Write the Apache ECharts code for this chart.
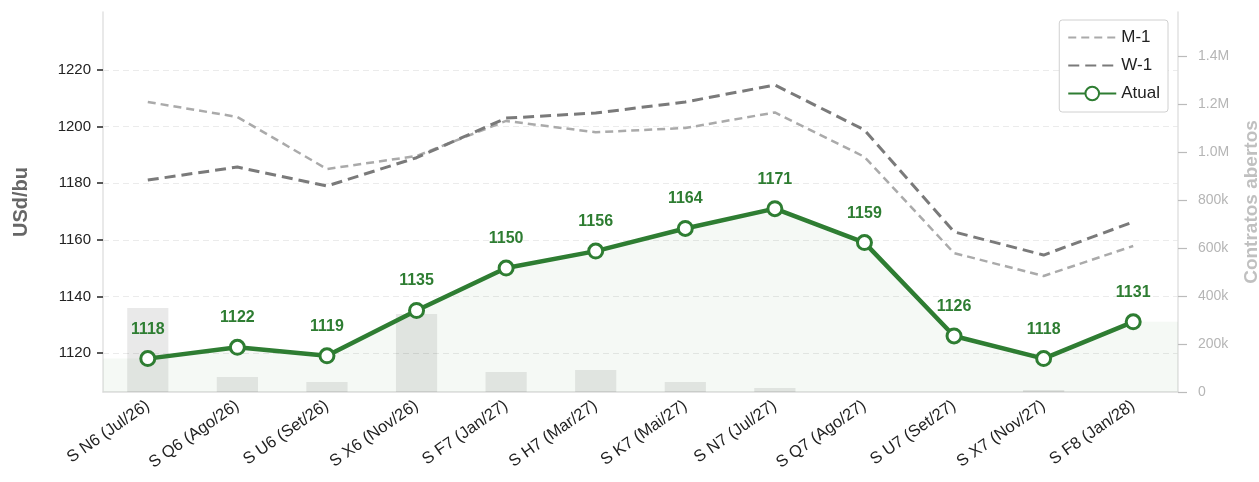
<!DOCTYPE html>
<html>
<head>
<meta charset="utf-8">
<script src="https://cdn.jsdelivr.net/npm/echarts@6/dist/echarts.min.js"></script>
<style>
  html, body { margin: 0; padding: 0; background: #fff; }
  #chart { width: 1259px; height: 482px; }
</style>
</head>
<body>
<div id="chart"></div>
<script>
// dados
const categories = ['S N6 (Jul/26)', 'S Q6 (Ago/26)', 'S U6 (Set/26)', 'S X6 (Nov/26)', 'S F7 (Jan/27)', 'S H7 (Mar/27)',
  'S K7 (Mai/27)', 'S N7 (Jul/27)', 'S Q7 (Ago/27)', 'S U7 (Set/27)', 'S X7 (Nov/27)', 'S F8 (Jan/28)'];
const atual = [1118, 1122, 1119, 1135, 1150, 1156, 1164, 1171, 1159, 1126, 1118, 1131];
const m1 = [1208.7, 1203.4, 1185, 1189.6, 1202, 1198, 1199.5, 1205, 1189.3, 1155.3, 1147.2, 1157.8];
const w1 = [1181.1, 1185.7, 1179, 1189, 1203, 1204.8, 1208.7, 1214.7, 1198.8, 1162.8, 1154.6, 1166.3];
const contratos = [350000, 62000, 42000, 325000, 83000, 92000, 42000, 17000, 0, 0, 8000, 0];
const priceTicks = [1120, 1140, 1160, 1180, 1200, 1220];
const oiTicks = [0, 200000, 400000, 600000, 800000, 1000000, 1200000, 1400000];

const green = '#2e7d32';
const font = 'Liberation Sans, Arial, sans-serif';

// area que vai de borda a borda do grid
const areaPts = [[-0.5, atual[0]]]
  .concat(atual.map((v, i) => [i, v]))
  .concat([[atual.length - 0.5, atual[atual.length - 1]]]);

function fmtOI(v) {
  if (v === 0) return '0';
  if (v >= 1000000) return (v / 1000000).toFixed(1) + 'M';
  return Math.round(v / 1000) + 'k';
}

const myChart = echarts.init(document.getElementById('chart'));
myChart.setOption({
  animation: false,
  textStyle: { fontFamily: font },
  grid: { left: 103, right: 81, top: 12, bottom: 90, containLabel: false, outerBoundsMode: 'none' },
  legend: {
    data: [
      { name: 'M-1', itemStyle: { opacity: 0 } },
      { name: 'W-1', itemStyle: { opacity: 0 } },
      { name: 'Atual' }
    ],
    orient: 'vertical',
    right: 91,
    top: 20,
    borderColor: '#d0d0d0',
    borderWidth: 1,
    borderRadius: 3,
    backgroundColor: '#fff',
    padding: [9, 8, 10, 8],
    itemGap: 11,
    itemWidth: 48,
    itemHeight: 17,
    textStyle: { fontSize: 17, color: '#222', fontFamily: font }
  },
  xAxis: [{
    type: 'category',
    data: categories,
    boundaryGap: true,
    axisLine: { onZero: false, lineStyle: { color: '#dddddd', width: 1.5 } },
    axisTick: { alignWithLabel: true, length: 6, lineStyle: { color: '#222', width: 1.5 } },
    axisLabel: { rotate: 35, fontSize: 16.5, color: '#222', margin: 12, interval: 0 }
  }, {
    type: 'value',
    min: -0.5,
    max: atual.length - 0.5,
    show: false
  }],
  yAxis: [{
    type: 'value',
    min: 1106.2,
    max: 1240.5,
    name: 'USd/bu',
    nameLocation: 'middle',
    nameRotate: 90,
    nameGap: 72,
    nameTextStyle: { fontSize: 20, fontWeight: 'bold', color: '#666' },
    axisLine: { show: true, onZero: false, lineStyle: { color: '#e2e2e2', width: 1.5 } },
    axisTick: { show: true, length: 6, customValues: priceTicks, lineStyle: { color: '#222', width: 1.5 } },
    axisLabel: { fontSize: 15, color: '#222', margin: 12, customValues: priceTicks, formatter: v => String(v) },
    splitLine: { show: true, lineStyle: { color: '#ebebeb', type: [6, 4], width: 1.2 } }
  }, {
    type: 'value',
    min: 0,
    max: 1583000,
    position: 'right',
    name: 'Contratos abertos',
    nameLocation: 'middle',
    nameRotate: 90,
    nameGap: 64,
    nameTextStyle: { fontSize: 19, fontWeight: 'bold', color: '#c0c0c0' },
    axisLine: { show: true, onZero: false, lineStyle: { color: '#e2e2e2', width: 1.5 } },
    axisTick: { show: true, length: 9, customValues: oiTicks, lineStyle: { color: '#bbb', width: 1.2 } },
    axisLabel: { fontSize: 14, color: '#b5b5b5', margin: 20, customValues: oiTicks, formatter: fmtOI },
    splitLine: { show: false }
  }],
  series: [
    {
      name: 'area',
      type: 'line',
      xAxisIndex: 1,
      yAxisIndex: 0,
      data: areaPts,
      symbol: 'none',
      lineStyle: { width: 0, opacity: 0 },
      areaStyle: { color: 'rgba(46,125,50,0.065)' },
      silent: true,
      z: 1
    },
    {
      name: 'Contratos',
      type: 'bar',
      yAxisIndex: 1,
      data: contratos,
      barWidth: '46%',
      itemStyle: { color: 'rgba(0,0,0,0.085)' },
      z: 2
    },
    {
      name: 'M-1',
      type: 'line',
      data: m1,
      symbol: 'none',
      lineStyle: { color: '#aaaaaa', width: 2.5, type: [8, 5] },
      itemStyle: { color: '#aaaaaa' },
      z: 3
    },
    {
      name: 'W-1',
      type: 'line',
      data: w1,
      symbol: 'none',
      lineStyle: { color: '#7a7a7a', width: 3, type: [11, 6] },
      itemStyle: { color: '#7a7a7a' },
      z: 4
    },
    {
      name: 'Atual',
      type: 'line',
      data: atual,
      symbol: 'circle',
      symbolSize: 14,
      lineStyle: { color: green, width: 4.5 },
      itemStyle: { color: '#fff', borderColor: green, borderWidth: 3 },
      label: {
        show: true,
        position: 'top',
        distance: 13,
        color: green,
        fontSize: 16,
        fontWeight: 'bold'
      },
      z: 5
    }
  ]
});
</script>
</body>
</html>
